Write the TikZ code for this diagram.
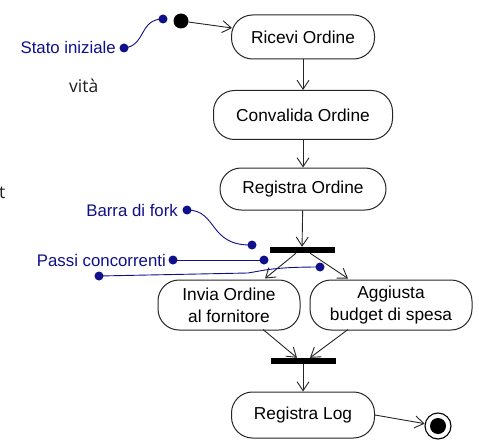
\documentclass[tikz,border=0pt]{standalone}
\usepackage{fontspec}
\setmainfont{Liberation Sans}
\newfontfamily\slidefont{Open Sans}
\usetikzlibrary{arrows.meta, positioning, calc}
\definecolor{notenavy}{HTML}{10108A}
\definecolor{boxgray}{HTML}{262626}
\definecolor{slidegray}{HTML}{1E1E1E}

\tikzset{
  actbox/.style={draw=boxgray, line width=1pt, fill=white, rounded corners=21pt,
    minimum height=44pt, align=center, inner sep=0pt,
    font=\fontsize{17.3}{22}\selectfont},
  flow/.style={draw=boxgray, line width=0.9pt, -{Straight Barb[length=9pt,width=12pt]}},
  forkbar/.style={fill=black, minimum width=65pt, minimum height=6pt, inner sep=0pt},
  notetext/.style={notenavy, anchor=east, inner sep=0pt, font=\fontsize{16.8}{17}\selectfont},
  noteline/.style={draw=notenavy, line width=0.9pt},
}

\begin{document}
\begin{tikzpicture}[x=1pt, y=-1pt]
  \useasboundingbox (0,0) rectangle (479,441);
  \fill[white] (0,0) rectangle (479,441);

  % pieces of the slide text behind the picture
  \node[slidegray, anchor=base west, inner sep=0pt, font=\slidefont\fontsize{17.5}{17.5}\selectfont] (slideA) at (69,93) {vità};
  \node[slidegray, anchor=base west, inner sep=0pt, font=\slidefont\fontsize{17.5}{17.5}\selectfont] (slideB) at (-1,198) {t};

  % activities
  \node[fill=black, circle, minimum size=15pt, inner sep=0pt] (start) at (181,21) {};
  \node[actbox, minimum width=143pt] (ricevi) at (303,37) {Ricevi Ordine};
  \node[actbox, minimum width=179pt, minimum height=49pt] (convalida) at (303,115) {Convalida Ordine};
  \node[actbox, minimum width=166pt, minimum height=42pt] (registra) at (303,189) {Registra Ordine};
  \node[forkbar] (fork) at (302,250) {};
  \node[actbox, minimum width=142pt, minimum height=50pt] (invia) at (229,305) {Invia Ordine\\al fornitore};
  \node[actbox, minimum width=162pt, minimum height=50pt] (aggiusta) at (391,305) {Aggiusta\\budget di spesa};
  \node[forkbar] (join) at (303,361) {};
  \node[actbox, minimum width=143pt, minimum height=46pt] (log) at (303,415) {Registra Log};
  \node[circle, draw=black, line width=1.1pt, minimum size=26pt, inner sep=0pt] (fine) at (438,426) {};
  \fill (fine.center) circle (8);

  % flows
  \draw[flow] (start) -- ($(ricevi.west)+(1,-9)$);
  \draw[flow] (ricevi) -- (convalida);
  \draw[flow] (convalida) -- (registra);
  \draw[flow] (registra) -- (fork);
  \draw[flow] ($(fork.south)+(-6,0)$) -- ($(invia.north)+(36,-1)$);
  \draw[flow] ($(fork.south)+(8,0)$) -- ($(aggiusta.north)+(-43,-1)$);
  \draw[flow] ($(invia.south)+(34,-1)$) -- ($(join.north)+(-6,0)$);
  \draw[flow] ($(aggiusta.south)+(-43,-1)$) -- ($(join.north)+(7,0)$);
  \draw[flow] (join) -- (log);
  \draw[flow] (log.east) -- (fine);

  % notes
  \node[notetext] (statoLbl) at (116,47) {Stato iniziale};
  \node[notetext] (forkLbl) at (178,210) {Barra di fork};
  \node[notetext] (passiLbl) at (166,260) {Passi concorrenti};

  \coordinate (statoA) at (124,48);
  \coordinate (statoB) at (163,19);
  \coordinate (forkA) at (187,210);
  \coordinate (forkB) at (252,245);
  \coordinate (passiA) at (173,260);
  \coordinate (passiB) at (264,260);
  \coordinate (passiC) at (99,276);
  \coordinate (passiD) at (320,267);

  \draw[noteline] (statoA) .. controls (146,46) and (139,19) .. (statoB);
  \draw[noteline] (forkA) .. controls (218,210) and (208,246) .. (forkB);
  \draw[noteline] (passiA) -- (passiB);
  \draw[noteline] (passiC) -- (248,273) .. controls (266,270) and (275,267) .. (passiD);

  \foreach \d in {statoA, statoB, forkA, forkB, passiA, passiB, passiC, passiD}
    \fill[notenavy] (\d) circle (4.5);
\end{tikzpicture}
\end{document}
